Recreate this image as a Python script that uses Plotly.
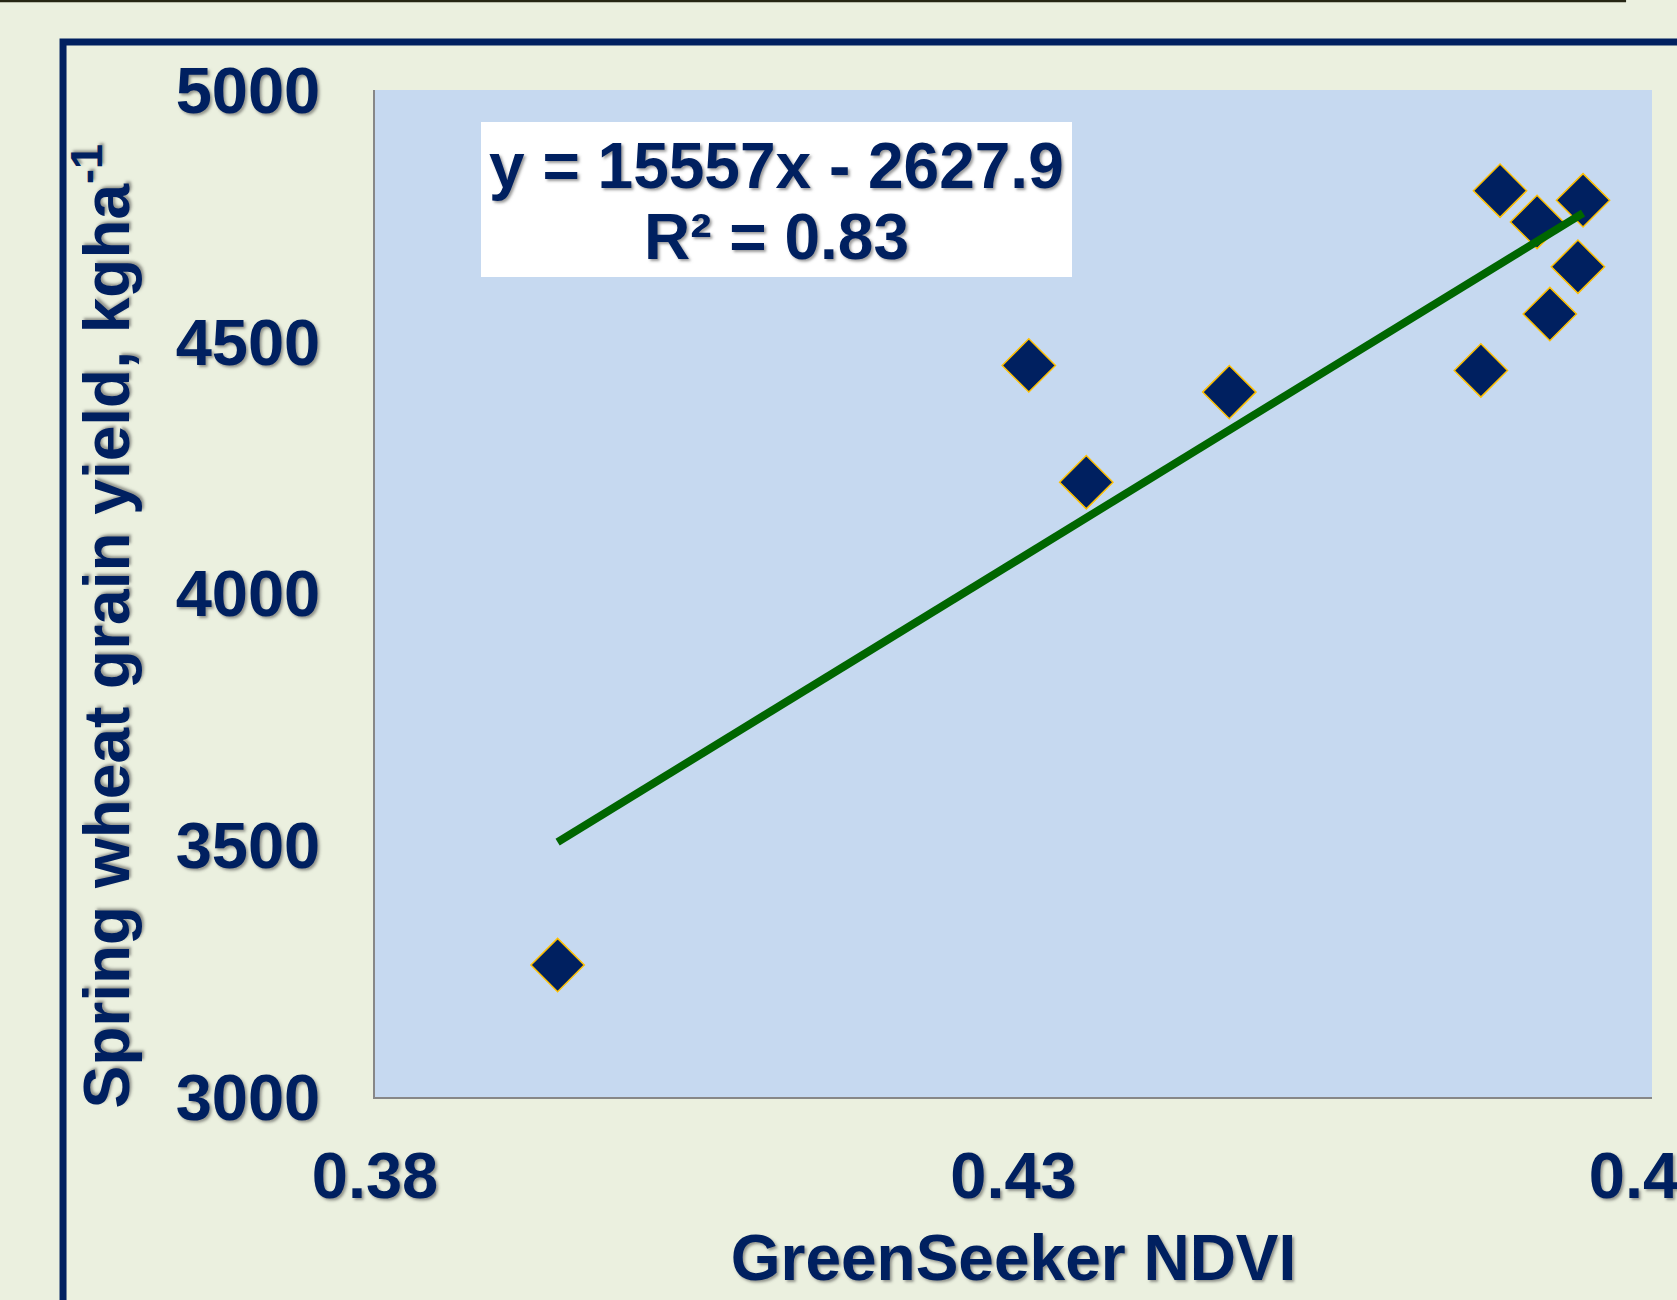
import plotly.graph_objects as go

# ---- data ----
ndvi = [0.3943, 0.4312, 0.4357, 0.4469, 0.4666, 0.4681, 0.4710, 0.4746, 0.4742, 0.4720]
grain_yield = [3262, 4453, 4221, 4400, 4443, 4800, 4738, 4781, 4649, 4555]

slope = 15557
intercept = -2627.9
r_squared = 0.83

x_ticks = [0.38, 0.43, 0.48]
x_tick_labels = ["0.38", "0.43", "0.48"]
y_ticks = [3000, 3500, 4000, 4500, 5000]
y_tick_labels = ["3000", "3500", "4000", "4500", "5000"]

# ---- styling ----
NAVY = "#002060"
FONT = "Liberation Sans, Arial, sans-serif"
SHADOW = "2px 2px 3px rgba(70,70,70,0.55)"
BG = "#EBF0DF"
PLOT_BG = "#C6D9F0"

trend_x = [min(ndvi), max(ndvi)]
trend_y = [slope * v + intercept for v in trend_x]

fig = go.Figure()
fig.add_trace(go.Scatter(
    x=ndvi, y=grain_yield, mode="markers",
    marker=dict(symbol="diamond", size=41, color=NAVY,
                line=dict(color="#FFC000", width=1.5)),
    showlegend=False, hoverinfo="x+y",
))
fig.add_trace(go.Scatter(
    x=trend_x, y=trend_y, mode="lines",
    line=dict(color="#006600", width=8),
    showlegend=False, hoverinfo="skip",
))

def big_font(size=64):
    return dict(family=FONT, size=size, color=NAVY, weight="bold", shadow=SHADOW)

fig.update_layout(
    width=1677, height=1300,
    paper_bgcolor=BG, plot_bgcolor=PLOT_BG,
    margin=dict(l=375, r=25, t=90, b=203, autoexpand=False),
    xaxis=dict(
        range=[0.38, 0.48 + 1e-9], tickmode="array",
        tickvals=x_ticks, ticktext=x_tick_labels,
        showgrid=False, zeroline=False,
        showline=True, linecolor="#878787", linewidth=2,
        ticks="", ticklabelstandoff=21, ticklabeloverflow="allow",
        tickfont=big_font(65), automargin=False,
        title=dict(text="GreenSeeker NDVI", standoff=24, font=big_font(64)),
    ),
    yaxis=dict(
        range=[3000, 5000 + 1e-6], tickmode="array",
        tickvals=y_ticks, ticktext=y_tick_labels,
        showgrid=False, zeroline=False,
        showline=True, linecolor="#878787", linewidth=1.5,
        ticks="", ticklabelstandoff=40, ticklabeloverflow="allow",
        tickfont=big_font(65), automargin=False,
    ),
    shapes=[
        # thin dark line at the very top
        dict(type="line", xref="paper", yref="paper",
             x0=-0.2937, x1=0.9797, y0=1.0884, y1=1.0884,
             line=dict(color="#262614", width=2.5), layer="above"),
        # navy frame (top + left)
        dict(type="path", xref="paper", yref="paper",
             path="M -0.2443,-0.25 L -0.2443,1.0477 L 1.05,1.0477",
             line=dict(color=NAVY, width=7), layer="above"),
        # white equation box
        dict(type="rect", xref="paper", yref="paper",
             x0=(481 - 375) / 1277, x1=(1072 - 375) / 1277,
             y0=(1097 - 277) / 1007, y1=(1097 - 122) / 1007,
             fillcolor="white", line=dict(width=0), layer="below"),
    ],
    annotations=[
        # y-axis title
        dict(xref="paper", yref="paper", x=(102.5 - 375) / 1277, y=(1097 - 627) / 1007,
             text="Spring wheat grain yield, kgha<sup>-1</sup>", textangle=-90,
             showarrow=False, xanchor="center", yanchor="middle", font=big_font(64)),
        # equation
        dict(xref="paper", yref="paper", x=(776.5 - 375) / 1277, y=(1097 - 166) / 1007,
             text=f"y = {slope}x - {abs(intercept)}", showarrow=False,
             xanchor="center", yanchor="middle", font=big_font(64)),
        dict(xref="paper", yref="paper", x=(776.5 - 375) / 1277, y=(1097 - 237) / 1007,
             text=f"R² = {r_squared}", showarrow=False,
             xanchor="center", yanchor="middle", font=big_font(64)),
    ],
)

fig.write_html("out.html", config={"displayModeBar": False},
               post_script="document.body.style.margin='0';")
